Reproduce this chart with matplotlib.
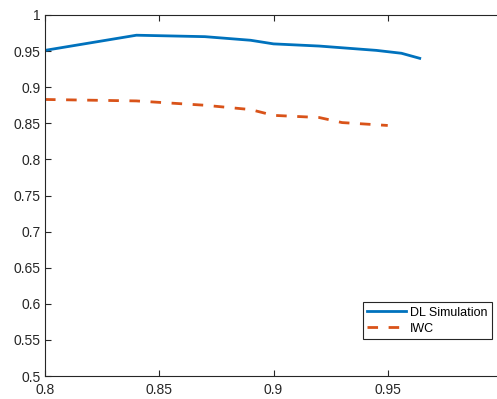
import matplotlib
matplotlib.use("Agg")
import matplotlib.pyplot as plt

dl_x = [0.80, 0.84, 0.87, 0.89, 0.90, 0.92, 0.945, 0.956, 0.964]
dl_y = [0.951, 0.972, 0.970, 0.965, 0.960, 0.957, 0.951, 0.947, 0.940]
iwc_x = [0.80, 0.84, 0.87, 0.89, 0.90, 0.92, 0.93, 0.95]
iwc_y = [0.883, 0.881, 0.875, 0.869, 0.861, 0.858, 0.851, 0.847]
xticks = [0.8, 0.85, 0.9, 0.95]
xticklabels = ["0.8", "0.85", "0.9", "0.95"]
yticks = [0.5, 0.55, 0.6, 0.65, 0.7, 0.75, 0.8, 0.85, 0.9, 0.95, 1.0]
yticklabels = ["0.5", "0.55", "0.6", "0.65", "0.7", "0.75", "0.8", "0.85", "0.9", "0.95", "1"]

plt.rcParams['font.family'] = ['Liberation Sans', 'DejaVu Sans']
fig = plt.figure(figsize=(4.97, 3.99), dpi=100)
ax = fig.add_axes([45/497, 23/399, 457/497, 361/399])

ax.plot(dl_x, dl_y, color='#0072BD', lw=2.0, label='DL Simulation')
ax.plot(iwc_x, iwc_y, color='#D95319', lw=2.0, dashes=(3.8, 3.8), label='IWC')

ax.set_xlim(0.8, 1.0)
ax.set_ylim(0.5, 1.0)
ax.set_xticks(xticks)
ax.set_xticklabels(xticklabels)
ax.set_yticks(yticks)
ax.set_yticklabels(yticklabels)
ec = '#262626'
for s in ax.spines.values():
    s.set_color(ec)
    s.set_linewidth(0.8)
ax.tick_params(direction='in', length=4, width=0.8, colors=ec, labelsize=10,
               top=True, right=False, labelcolor=ec, pad=3)
ax.tick_params(axis='x', pad=5)

leg = ax.legend(loc='lower right', bbox_to_anchor=(0.978, 0.1025), fancybox=False,
                framealpha=1, edgecolor=ec, fontsize=9, borderaxespad=0,
                handlelength=3.1, handletextpad=0.35, borderpad=0.35, labelspacing=0.3)
leg.get_frame().set_linewidth(0.8)

fig.savefig('out.png', dpi=100)
